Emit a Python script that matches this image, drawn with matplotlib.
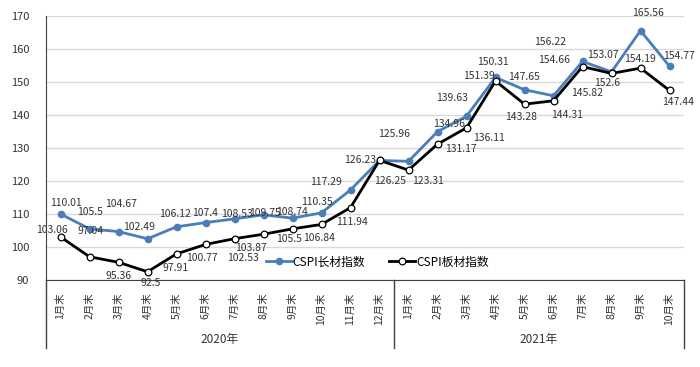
import matplotlib
matplotlib.use("Agg")
import matplotlib.pyplot as plt
import matplotlib.transforms as mtransforms

plt.rcParams['font.family'] = ['Noto Sans CJK SC', 'DejaVu Sans']

# === Данные
months_2020 = ["1月末", "2月末", "3月末", "4月末", "5月末", "6月末",
               "7月末", "8月末", "9月末", "10月末", "11月末", "12月末"]
months_2021 = ["1月末", "2月末", "3月末", "4月末", "5月末",
               "6月末", "7月末", "8月末", "9月末", "10月末"]
categories = months_2020 + months_2021
groups = ["2020年", "2021年"]

long_idx = [110.01, 105.5, 104.67, 102.49, 106.12, 107.4, 108.53, 109.75, 108.74, 110.35, 117.29, 126.23,
            125.96, 134.96, 139.63, 151.39, 147.65, 145.82, 156.22, 153.07, 165.56, 154.77]
plate_idx = [103.06, 97.04, 95.36, 92.5, 97.91, 100.77, 102.53, 103.87, 105.5, 106.84, 111.94, 126.25,
             123.31, 131.17, 136.11, 150.31, 143.28, 144.31, 154.66, 152.6, 154.19, 147.44]

# смещения подписей (пиксели) как на оригинале
long_off = [(5, -11), (1, -17), (3, -28), (-8, -12), (-1, -13), (0, -10), (2, -5), (1, -2), (0, -6),
            (-5, -11), (-24, -8), (-19, 0), (-14, -27), (12, -8), (-14, -18), (-17, -1), (0, -13),
            (34, -3), (-32, -19), (-9, -17), (8, -18), (9, -10)]
plate_off = [(-9, -7), (1, -26), (0, 14), (3, 11), (-1, 14), (-4, 14), (8, 19), (-13, 14), (-3, 10),
             (-2, 14), (2, 14), (11, 21), (19, 11), (23, 5), (22, 10), (-3, -19), (-3, 13), (14, 14),
             (-28, -7), (-4, 10), (0, -9), (9, 12)]

x = list(range(len(categories)))

fig = plt.figure(figsize=(7, 3.67), dpi=100)
ax = fig.add_axes([46 / 700, 1 - 280 / 367, 638 / 700, 264 / 367])

ax.plot(x, long_idx, color="#4a7ebb", lw=2.0, marker="o", ms=4.5,
        mfc="#4a7ebb", mec="#4a7ebb", label="CSPI长材指数", zorder=3)
ax.plot(x, plate_idx, color="black", lw=2.0, marker="o", ms=4.8,
        mfc="white", mec="black", mew=0.9, label="CSPI板材指数", zorder=4)

for xi, v, (dx, dy) in zip(x, long_idx, long_off):
    ax.annotate(f"{v:g}", (xi, v), xytext=(dx, -dy), textcoords="offset pixels",
                ha="center", va="center", fontsize=7.5, color="#333333", zorder=5)
for xi, v, (dx, dy) in zip(x, plate_idx, plate_off):
    ax.annotate(f"{v:g}", (xi, v), xytext=(dx, -dy), textcoords="offset pixels",
                ha="center", va="center", fontsize=7.5, color="#333333", zorder=5)

ax.set_xlim(-0.5, len(categories) - 0.5)
ax.set_ylim(90, 170)
ax.set_yticks(range(90, 171, 10))
ax.grid(axis="y", color="#d9d9d9", lw=1.0)
ax.set_axisbelow(True)
ax.set_xticks(x)
ax.set_xticklabels(categories, rotation=90, fontsize=7.5, color="#333333")
ax.tick_params(axis="x", length=0, pad=9)
ax.tick_params(axis="y", length=0, pad=12, labelsize=8, labelcolor="#333333")

for s in ["top", "right"]:
    ax.spines[s].set_visible(False)
ax.spines["left"].set_color("#404040")
ax.spines["bottom"].set_color("#404040")

# разделители групп
trans = mtransforms.blended_transform_factory(ax.transData, ax.transAxes)
for bx in [-0.5, len(months_2020) - 0.5, len(categories) - 0.5]:
    ax.plot([bx, bx], [0, -0.258], color="#404040", lw=1.0, transform=trans, clip_on=False)
ax.text((len(months_2020) - 1) / 2, -0.227, groups[0], transform=trans,
        ha="center", va="center", fontsize=8.5, color="#333333")
ax.text(len(months_2020) + (len(months_2021) - 1) / 2, -0.227, groups[1], transform=trans,
        ha="center", va="center", fontsize=8.5, color="#333333")

ax.legend(loc="center", bbox_to_anchor=(0.519, 0.068), ncol=2, frameon=False,
          fontsize=8.5, handlelength=2.2, columnspacing=2.0, handletextpad=0.1)

fig.savefig("out.png", dpi=100)
